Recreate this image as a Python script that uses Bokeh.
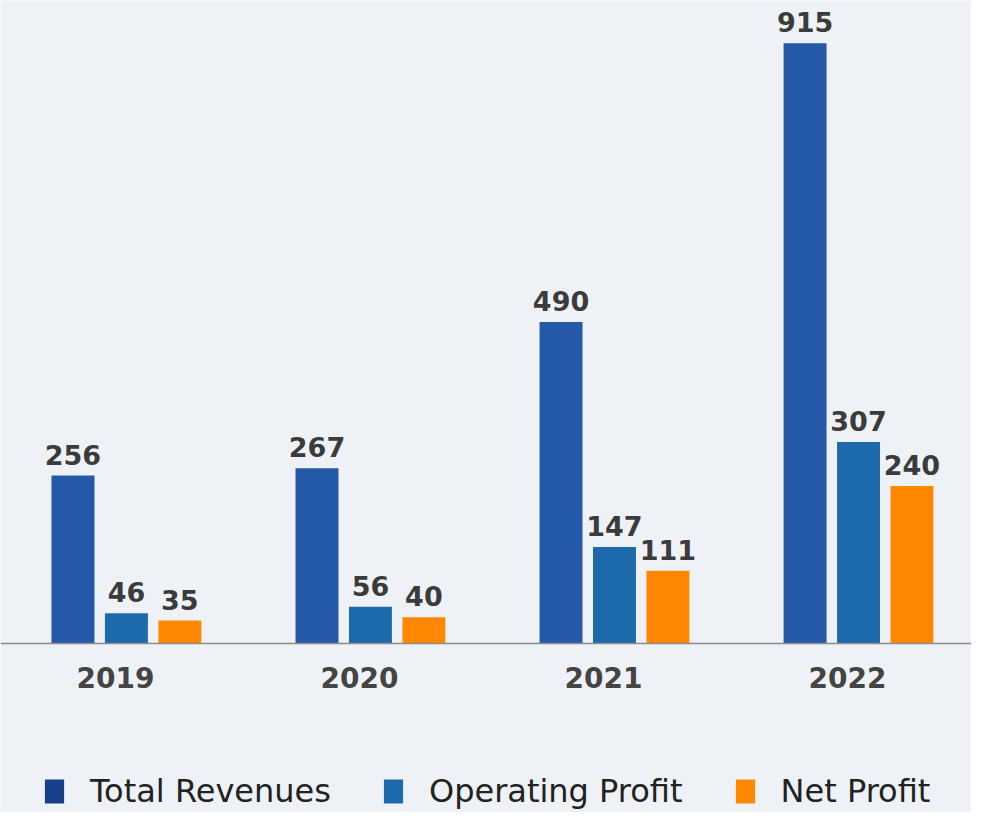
from bokeh.plotting import figure
from bokeh.models import ColumnDataSource, LabelSet, FixedTicker, Range1d, Legend, LegendItem
from bokeh.core.properties import value
from bokeh.embed import file_html
from bokeh.resources import INLINE

years = ["2019", "2020", "2021", "2022"]
total_revenues = [256, 267, 490, 915]
operating_profit = [46, 56, 147, 307]
net_profit = [35, 40, 111, 240]

series_names = ["Total Revenues", "Operating Profit", "Net Profit"]
series_colors = ["#2458a8", "#1c6aab", "#ff8800"]
legend_colors = ["#173f8a", "#1c6aab", "#ff8800"]

BG = "#eef2f6"
W, H = 971, 812

p = figure(width=W, height=H, output_backend="svg", toolbar_location=None,
           x_range=Range1d(-0.516, 3.463), y_range=Range1d(-257.6, 980),
           min_border=0, min_border_left=0, min_border_right=0,
           min_border_top=0, min_border_bottom=0)
p.background_fill_color = BG
p.border_fill_color = BG
p.outline_line_color = None
p.grid.visible = False
p.yaxis.visible = False

xs = list(range(len(years)))
bar_w = 0.176
offsets = [-0.219, 0.0, 0.219]
all_vals = [total_revenues, operating_profit, net_profit]

items = []
for name, vals, col, lcol, off in zip(series_names, all_vals, series_colors, legend_colors, offsets):
    src = ColumnDataSource(dict(x=[x + off for x in xs], top=vals,
                                txt=[str(v) for v in vals]))
    p.vbar(x="x", top="top", bottom=0, width=bar_w, source=src,
           fill_color=col, line_color=None)
    lab = LabelSet(x="x", y="top", text="txt", source=src, text_align="center",
                   text_baseline="alphabetic", y_offset=11,
                   text_font=value("DejaVu Sans"), text_font_style="bold",
                   text_font_size="27px", text_color="#3b3b3b")
    p.add_layout(lab)
    proxy = p.vbar(x=[0], top=[0], width=0, fill_color=lcol, line_color=None)
    items.append(LegendItem(label=name, renderers=[proxy]))

xa = p.xaxis[0]
xa.fixed_location = 0
xa.ticker = FixedTicker(ticks=[x - 0.045 for x in xs])
xa.major_label_overrides = {x - 0.045: y for x, y in zip(xs, years)}
xa.axis_line_color = "#8c8c8c"
xa.axis_line_width = 1.5
xa.major_tick_line_color = None
xa.minor_tick_line_color = None
xa.major_label_text_font = "DejaVu Sans"
xa.major_label_text_font_style = "bold"
xa.major_label_text_font_size = "28px"
xa.major_label_text_color = "#444444"
xa.major_label_standoff = 18

legend = Legend(items=items, orientation="horizontal", location=(42, 2))
legend.glyph_width = 24
legend.glyph_height = 30
legend.label_standoff = 24
legend.spacing = 50
legend.padding = 0
legend.margin = 0
legend.border_line_color = None
legend.background_fill_alpha = 0
legend.label_text_font = "DejaVu Sans"
legend.label_text_font_size = "32px"
legend.label_text_color = "#222222"
p.add_layout(legend, "center")

open("out.html", "w").write(file_html(p, INLINE))
